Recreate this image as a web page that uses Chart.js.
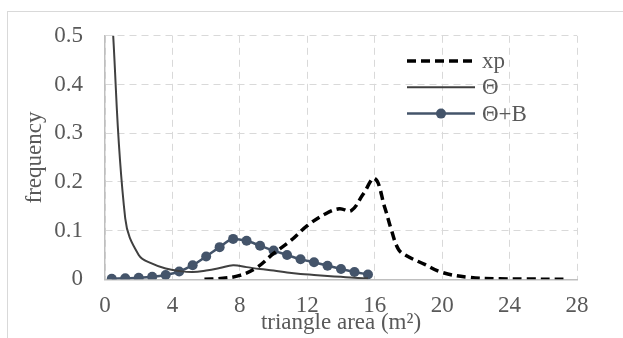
<!DOCTYPE html>
<html>
<head>
<meta charset="utf-8">
<title>triangle area frequency</title>
<script src="https://cdn.jsdelivr.net/npm/chart.js@4.4.0/dist/chart.umd.min.js"></script>
<style>
    html, body { margin: 0; padding: 0; background: #fff; overflow: hidden; }
    #wrap { position: relative; width: 623px; height: 338px; overflow: hidden; }
    #frame { position: absolute; left: 7px; top: 11px; width: 700px; height: 400px; border: 1px solid #d9d9d9; }
    #chart { position: absolute; left: 0; top: 0; }
</style>
</head>
<body>
<div id="wrap">
    <div id="frame"></div>
    <canvas id="chart" width="623" height="338"></canvas>
</div>
<script>
// ==========================================
// DATA
// ==========================================

// shared x positions of the Θ and Θ+B series
const areaX = [0.4, 1.2, 2.0, 2.8, 3.6, 4.4, 5.2, 6.0, 6.8, 7.6,
               8.4, 9.2, 10.0, 10.8, 11.6, 12.4, 13.2, 14.0, 14.8, 15.6];
const thetaY = [0.55, 0.125, 0.05, 0.032, 0.022, 0.017, 0.015, 0.018, 0.023, 0.029,
                0.025, 0.021, 0.018, 0.014, 0.011, 0.009, 0.007, 0.005, 0.003, 0.002];
const thetaBY = [0.001, 0.002, 0.003, 0.005, 0.009, 0.016, 0.029, 0.047, 0.066, 0.083,
                 0.079, 0.069, 0.059, 0.050, 0.041, 0.035, 0.028, 0.021, 0.015, 0.010];

// experimental curve (xp)
const xpX = [5.9, 7.0, 8.0, 9.0, 10.0, 11.0, 12.0, 13.0, 13.9, 14.6, 15.3, 16.0,
             16.6, 17.0, 17.4, 17.8, 19.0, 20.0, 21.6, 23.4, 25.0, 27.4];
const xpY = [0, 0.002, 0.008, 0.024, 0.053, 0.079, 0.11, 0.133, 0.145, 0.141, 0.174, 0.207,
             0.147, 0.10, 0.062, 0.05, 0.03, 0.014, 0.004, 0.001, 0.0005, 0];

const seriesLabels = ['xp', 'Θ', 'Θ+B'];
const xTickValues = [0, 4, 8, 12, 16, 20, 24, 28];
const yTickValues = [0, 0.1, 0.2, 0.3, 0.4, 0.5];

// ==========================================
// STYLE
// ==========================================

const FONT = "'Liberation Serif', 'Times New Roman', serif";
const TEXT_COLOR = '#595959';
const FONT_SIZE = 23;

function toPoints(xs, ys) {
    return xs.map((x, i) => ({ x: x, y: ys[i] }));
}

// legend drawn inside the plot, top right
const legendBox = { x: 407, y: 61, lineLength: 68, rowGap: 26.3, textGap: 7 };

const insideLegend = {
    id: 'insideLegend',
    afterDatasetsDraw(chart) {
        const ctx = chart.ctx;
        chart.data.datasets.forEach((ds, i) => {
            const y = legendBox.y + i * legendBox.rowGap;
            const x0 = legendBox.x;
            const x1 = legendBox.x + legendBox.lineLength;
            ctx.save();
            ctx.strokeStyle = ds.borderColor;
            ctx.lineWidth = ds.borderWidth;
            ctx.setLineDash(ds.borderDash || []);
            ctx.beginPath();
            ctx.moveTo(x0, y);
            ctx.lineTo(x1, y);
            ctx.stroke();
            if (ds.pointRadius) {
                ctx.setLineDash([]);
                ctx.fillStyle = ds.backgroundColor;
                ctx.beginPath();
                ctx.arc((x0 + x1) / 2, y, ds.pointRadius, 0, Math.PI * 2);
                ctx.fill();
            }
            ctx.fillStyle = TEXT_COLOR;
            ctx.font = FONT_SIZE + 'px ' + FONT;
            ctx.textAlign = 'left';
            ctx.textBaseline = 'middle';
            ctx.fillText(ds.label, x1 + legendBox.textGap, y + 1);
            ctx.restore();
        });
    }
};

// ==========================================
// CHART
// ==========================================

const ctx = document.getElementById('chart');

new Chart(ctx, {
    type: 'scatter',
    data: {
        datasets: [
            {
                label: seriesLabels[0],
                data: toPoints(xpX, xpY),
                showLine: true,
                borderColor: '#000000',
                backgroundColor: '#000000',
                borderWidth: 3.5,
                borderDash: [9, 5],
                pointRadius: 0,
                tension: 0.4
            },
            {
                label: seriesLabels[1],
                data: toPoints(areaX, thetaY),
                showLine: true,
                borderColor: '#404040',
                backgroundColor: '#404040',
                borderWidth: 2,
                pointRadius: 0,
                tension: 0.4
            },
            {
                label: seriesLabels[2],
                data: toPoints(areaX, thetaBY),
                showLine: true,
                borderColor: '#44546A',
                backgroundColor: '#44546A',
                borderWidth: 2.5,
                pointRadius: 5,
                pointBorderWidth: 0,
                pointBackgroundColor: '#44546A',
                cubicInterpolationMode: 'monotone'
            }
        ]
    },
    options: {
        responsive: false,
        animation: false,
        layout: { padding: { left: 0, top: 32, right: 46, bottom: 0 } },
        plugins: {
            legend: { display: false },
            tooltip: { enabled: false }
        },
        scales: {
            x: {
                type: 'linear',
                min: 0,
                max: 28,
                afterBuildTicks: (scale) => { scale.ticks = xTickValues.map(v => ({ value: v })); },
                afterFit: (scale) => { scale.height = 58.7; },
                grid: { color: '#d9d9d9', lineWidth: 1, drawTicks: false },
                border: { display: true, color: '#bfbfbf', width: 1.5, dash: [7, 5] },
                ticks: {
                    color: TEXT_COLOR,
                    font: { family: FONT, size: FONT_SIZE },
                    padding: 13,
                    maxRotation: 0,
                    callback: (v) => String(v)
                },
                title: {
                    display: true,
                    text: 'triangle area (m²)',
                    color: TEXT_COLOR,
                    font: { family: FONT, size: FONT_SIZE },
                    padding: { top: 0, bottom: 1 }
                }
            },
            y: {
                type: 'linear',
                min: 0,
                max: 0.5,
                afterBuildTicks: (scale) => { scale.ticks = yTickValues.map(v => ({ value: v })); },
                afterFit: (scale) => { scale.width = 105; },
                grid: { color: '#d9d9d9', lineWidth: 1, drawTicks: false },
                border: { display: true, color: '#bfbfbf', width: 1.5, dash: [7, 5] },
                ticks: {
                    color: TEXT_COLOR,
                    font: { family: FONT, size: FONT_SIZE },
                    padding: 22,
                    callback: (v) => String(v)
                },
                title: {
                    display: true,
                    text: 'frequency',
                    color: TEXT_COLOR,
                    font: { family: FONT, size: FONT_SIZE },
                    padding: { top: 21, bottom: 0 }
                }
            }
        }
    },
    plugins: [insideLegend]
});
</script>
</body>
</html>
